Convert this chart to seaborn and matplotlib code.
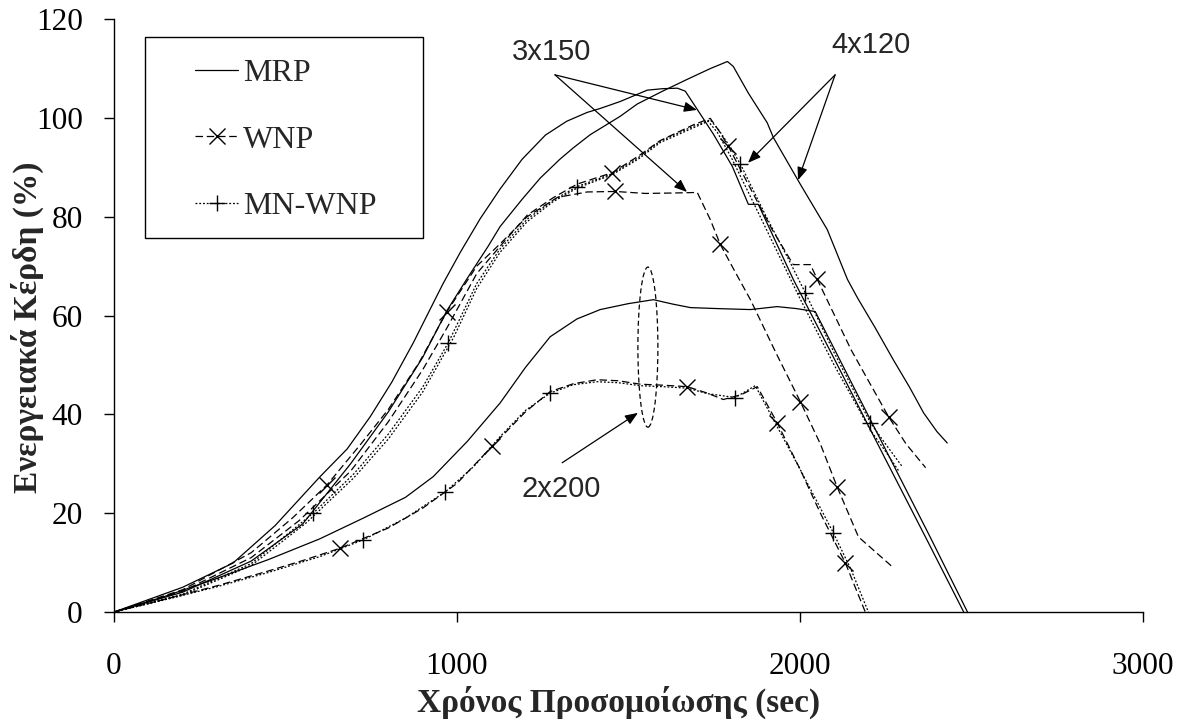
import matplotlib
matplotlib.use("Agg")
import matplotlib.pyplot as plt
import seaborn as sns
from matplotlib.lines import Line2D
from matplotlib.patches import Ellipse, Rectangle

# ---------------- data ----------------
# 2x200 scenario
t2_mrp_x = [0, 150, 300, 450, 600, 727, 850, 931, 1030, 1126, 1200, 1272, 1350, 1418, 1500, 1573, 1630, 1681, 1760, 1856, 1934, 1990, 2045, 2150, 2264, 2380, 2489]
t2_mrp_y = [0, 3.2, 6.8, 10.6, 14.8, 19.0, 23.2, 27.4, 34.5, 42.3, 49.5, 55.7, 59.3, 61.2, 62.4, 63.2, 62.3, 61.6, 61.4, 61.2, 61.8, 61.4, 60.8, 46.5, 31.0, 15.2, 0]

t2_wnp_x = [0, 150, 300, 450, 550, 659, 800, 900, 1000, 1102, 1200, 1272, 1340, 1409, 1470, 1535, 1600, 1672, 1730, 1777, 1830, 1876, 1934, 2000, 2060, 2133, 2191]
t2_wnp_y = [0, 2.6, 5.3, 8.3, 10.4, 12.9, 17.0, 21.0, 26.0, 33.5, 40.5, 44.6, 46.2, 47.0, 46.8, 46.1, 45.9, 45.6, 44.3, 43.0, 44.0, 45.6, 38.3, 29.0, 20.0, 9.9, 0]
t2_wnp_marks = [659, 1102, 1672, 1934, 2133]

t2_mn_x = [0, 150, 300, 450, 600, 727, 850, 966, 1050, 1126, 1200, 1272, 1340, 1409, 1470, 1535, 1600, 1672, 1730, 1812, 1870, 1934, 2000, 2098, 2150, 2200]
t2_mn_y = [0, 2.5, 5.1, 8.0, 11.2, 14.6, 19.0, 24.3, 29.5, 35.5, 40.8, 44.3, 46.0, 46.6, 46.4, 45.8, 45.6, 45.3, 44.2, 43.4, 45.8, 37.5, 29.0, 16.0, 8.5, 0]
t2_mn_marks = [727, 966, 1272, 1812, 2098]

# 3x150 scenario
t3_mrp_x = [0, 200, 347, 470, 601, 680, 747, 810, 873, 920, 960, 1010, 1068, 1126, 1190, 1258, 1320, 1380, 1418, 1476, 1555, 1600, 1643, 1666, 1701, 1748, 1803, 1850, 1879, 1981, 2100, 2250, 2370, 2478]
t3_mrp_y = [0, 5.0, 9.9, 17.5, 27.4, 33.0, 39.5, 46.5, 54.5, 61.0, 66.5, 72.8, 79.6, 85.6, 91.6, 96.5, 99.3, 101.1, 101.9, 103.3, 105.6, 105.9, 106.0, 105.4, 101.7, 96.7, 90.2, 82.5, 82.5, 67.3, 51.3, 30.9, 14.7, 0]

t3_wnp_x = [0, 200, 400, 520, 621, 720, 800, 890, 971, 1058, 1126, 1205, 1293, 1380, 1462, 1550, 1640, 1701, 1739, 1768, 1810, 1856, 1930, 2002, 2060, 2109, 2171, 2220, 2274]
t3_wnp_y = [0, 4.5, 12.0, 19.0, 25.7, 34.0, 41.0, 50.5, 60.8, 70.0, 74.5, 80.0, 83.9, 85.0, 85.1, 84.7, 84.8, 84.9, 79.4, 74.4, 69.0, 63.2, 52.5, 42.5, 34.0, 25.3, 15.2, 12.2, 8.9]
t3_wnp_marks = [621, 971, 1462, 1768, 2002, 2109]

t3_mn_x = [0, 200, 400, 560, 700, 800, 900, 990, 1058, 1126, 1205, 1280, 1351, 1453, 1530, 1593, 1690, 1733, 1760, 1800, 1860, 1930, 2000, 2100, 2206, 2250, 2290]
t3_mn_y = [0, 3.4, 9.4, 18.0, 27.2, 35.0, 44.5, 55.5, 65.5, 72.8, 79.0, 83.0, 85.8, 88.5, 91.7, 95.0, 98.0, 99.3, 97.0, 92.0, 83.5, 73.5, 63.5, 50.0, 36.8, 32.5, 28.4]

# 4x120 scenario
t4_mrp_x = [0, 200, 400, 550, 690, 800, 900, 971, 1030, 1091, 1126, 1190, 1243, 1300, 1339, 1389, 1476, 1526, 1600, 1672, 1740, 1789, 1806, 1850, 1905, 1923, 2002, 2080, 2139, 2168, 2220, 2273, 2320, 2361, 2400, 2430]
t4_mrp_y = [0, 4.0, 10.3, 17.8, 30.0, 40.5, 51.5, 61.0, 67.5, 74.0, 78.0, 83.5, 87.8, 91.6, 93.9, 96.6, 100.3, 102.8, 105.4, 107.8, 110.0, 111.4, 110.4, 105.0, 99.0, 96.0, 86.5, 77.4, 67.3, 63.6, 57.5, 51.0, 45.5, 40.3, 36.5, 34.2]

t4_wnp_x = [0, 200, 400, 540, 690, 800, 900, 971, 1058, 1126, 1205, 1280, 1351, 1453, 1530, 1593, 1690, 1739, 1765, 1792, 1850, 1920, 1981, 2031, 2051, 2150, 2259, 2310, 2367]
t4_wnp_y = [0, 4.2, 11.0, 18.5, 28.5, 38.5, 49.0, 57.5, 68.5, 74.0, 80.3, 83.8, 86.6, 88.9, 92.3, 95.4, 98.6, 99.9, 97.3, 94.2, 86.5, 77.3, 70.3, 70.3, 67.3, 53.0, 39.5, 34.0, 29.2]
t4_wnp_marks = [1453, 1792, 2051, 2259]

t4_mn_x = [0, 200, 400, 581, 700, 800, 900, 975, 1058, 1126, 1205, 1280, 1351, 1453, 1530, 1593, 1690, 1739, 1765, 1800, 1827, 1900, 1970, 2016, 2100, 2206, 2250, 2299]
t4_mn_y = [0, 3.6, 9.8, 20.0, 28.0, 36.0, 45.5, 54.5, 66.5, 73.5, 79.5, 83.3, 86.1, 88.7, 92.0, 95.3, 98.3, 99.6, 97.4, 93.8, 90.6, 80.3, 71.0, 64.6, 52.5, 38.3, 34.0, 29.4]
t4_mn_marks = [581, 975, 1351, 1827, 2016, 2206]

protocols = ["MRP", "WNP", "MN-WNP"]
x_ticks = [0, 1000, 2000, 3000]
y_ticks = [0, 20, 40, 60, 80, 100, 120]
x_label = "Χρόνος Προσομοίωσης (sec)"
y_label = "Ενεργειακά Κέρδη (%)"

# ---------------- style ----------------
sns.set_theme(style="ticks")
plt.rcParams["font.family"] = ["Liberation Serif", "DejaVu Serif"]

LW = 0.9
style = {
    "MRP": dict(linestyle="-"),
    "WNP": dict(linestyle=(0, (6, 3)), marker="x", markersize=11),
    "MN-WNP": dict(linestyle=(0, (1.5, 1.5)), marker="+", markersize=12),
}

fig = plt.figure(figsize=(11.82, 7.22), dpi=100)
ax = fig.add_axes([0.09645, 0.15235, 0.87030, 0.82133])

series = [
    ("MRP", t2_mrp_x, t2_mrp_y, []),
    ("WNP", t2_wnp_x, t2_wnp_y, t2_wnp_marks),
    ("MN-WNP", t2_mn_x, t2_mn_y, t2_mn_marks),
    ("MRP", t3_mrp_x, t3_mrp_y, []),
    ("WNP", t3_wnp_x, t3_wnp_y, t3_wnp_marks),
    ("MN-WNP", t3_mn_x, t3_mn_y, []),
    ("MRP", t4_mrp_x, t4_mrp_y, []),
    ("WNP", t4_wnp_x, t4_wnp_y, t4_wnp_marks),
    ("MN-WNP", t4_mn_x, t4_mn_y, t4_mn_marks),
]

for proto, xs, ys, marks in series:
    kw = dict(style[proto])
    if marks:
        kw["markevery"] = [xs.index(m) for m in marks]
    else:
        kw.pop("marker", None)
        kw.pop("markersize", None)
    sns.lineplot(x=xs, y=ys, ax=ax, color="black", linewidth=LW,
                 errorbar=None, sort=False, markeredgecolor="black",
                 markeredgewidth=1.0, **kw)

ax.set_xlim(0, 3000)
ax.set_ylim(0, 120)
ax.set_xticks(x_ticks)
ax.set_yticks(y_ticks)
ax.tick_params(axis="both", direction="out", length=7.5, width=1, colors="black",
               labelsize=22.5)
ax.tick_params(axis="x", pad=21)
ax.tick_params(axis="y", pad=15)
for s in ["top", "right"]:
    ax.spines[s].set_visible(False)
for s in ["left", "bottom"]:
    ax.spines[s].set_color("black")
    ax.spines[s].set_linewidth(1)

ax.set_xlabel(x_label, fontsize=24, fontweight="bold", va="center", ha="center")
ax.xaxis.set_label_coords(0.49, -0.152)
ax.set_ylabel(y_label, fontsize=24, fontweight="bold", va="center", ha="center")
ax.yaxis.set_label_coords(-0.0841, 0.48)

# legend
handles = [
    Line2D([], [], color="black", lw=LW, linestyle="-"),
    Line2D([], [], color="black", lw=LW, linestyle=(0, (6, 3)), marker="x",
           markersize=11, markeredgewidth=1.0),
    Line2D([], [], color="black", lw=LW, linestyle=(0, (1.5, 1.5)), marker="+",
           markersize=12, markeredgewidth=1.0),
]
leg = ax.legend(handles, protocols, loc="center left", bbox_to_anchor=(0.0787, 0.796),
                frameon=False, fontsize=23, handlelength=1.35, handletextpad=0.15,
                labelspacing=1.17, borderpad=0, borderaxespad=0)
ax.add_patch(Rectangle((0.0301, 0.6307), 0.2702, 0.339, transform=ax.transAxes,
                       fill=False, edgecolor="black", lw=1.0, zorder=5))

# annotations
arrow_kw = dict(arrowstyle="-|>,head_length=0.55,head_width=0.22", color="black",
                lw=0.9, shrinkA=0, shrinkB=0, mutation_scale=14)
ann_font = dict(family=["Liberation Sans", "DejaVu Sans"], fontsize=21)

ax.text(1277, 113.3, "3x150", ha="center", va="center", **ann_font)
ax.annotate("", xy=(1700, 101.6), xytext=(1286, 108.7), arrowprops=arrow_kw)
ax.annotate("", xy=(1671, 85.0), xytext=(1286, 108.7), arrowprops=arrow_kw)

ax.text(2208, 114.7, "4x120", ha="center", va="center", **ann_font)
ax.annotate("", xy=(1849, 90.9), xytext=(2103, 108.7), arrowprops=arrow_kw)
ax.annotate("", xy=(1995, 87.4), xytext=(2103, 108.7), arrowprops=arrow_kw)

ax.text(1304, 24.9, "2x200", ha="center", va="center", **ann_font)
ax.annotate("", xy=(1528, 40.3), xytext=(1307, 30.2), arrowprops=arrow_kw)

ax.add_patch(Ellipse((1557, 53.6), 58.3, 32.4, fill=False, edgecolor="black",
                     lw=0.9, linestyle=(0, (4, 2.5))))

fig.savefig("out.png", dpi=100, facecolor="white")
